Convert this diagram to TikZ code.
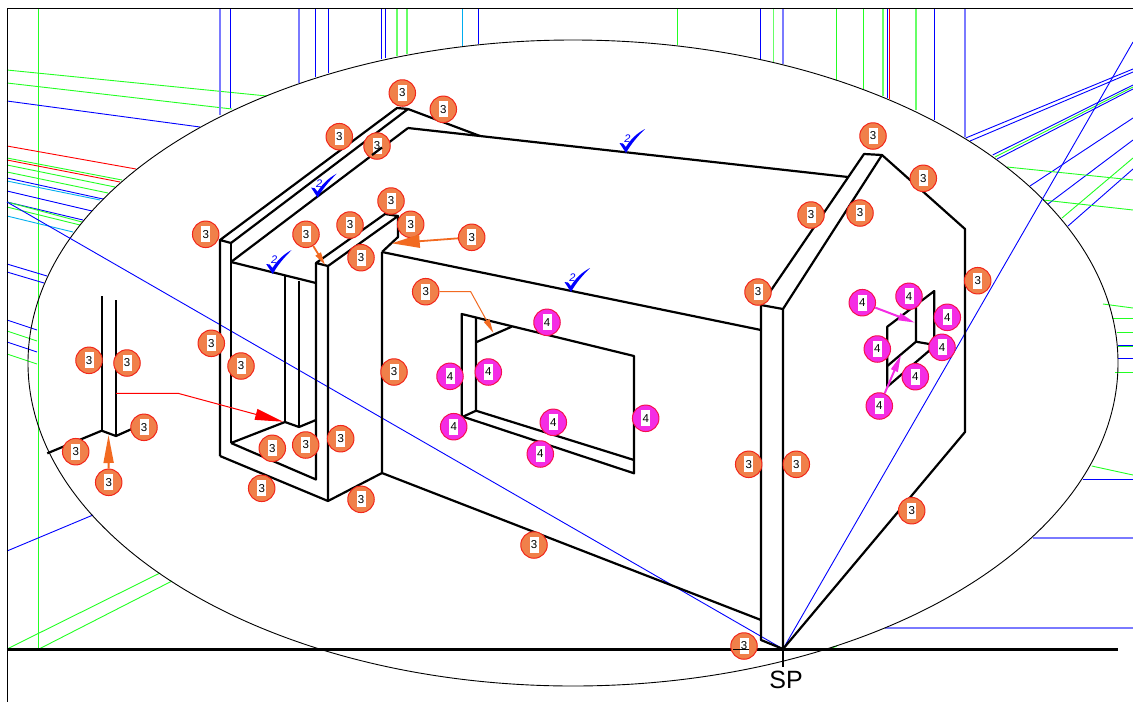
\documentclass[tikz,border=0pt]{standalone}
\usepackage{fontspec}
\setmainfont{Liberation Sans}
\usetikzlibrary{arrows.meta}
\definecolor{bordo}{HTML}{F2261A}
\definecolor{fillo}{HTML}{F0804A}
\definecolor{bordm}{HTML}{F5104E}
\definecolor{fillm}{HTML}{F42CE4}
\definecolor{tipo}{HTML}{F26A21}
\definecolor{paleb}{HTML}{7A7AFF}
\definecolor{paleg}{HTML}{66FF66}
\definecolor{pureg}{HTML}{22FF22}
\tikzset{
  wall/.style={line width=2.2pt, line join=round},
  thin line/.style={line width=0.9pt},
  gl/.style={thin line, pureg},
  bl/.style={thin line, blue},
  rl/.style={thin line, red},
  cl/.style={thin line, cyan},
  pb/.style={line width=1.5pt, paleb},
  pg/.style={line width=1.5pt, paleg},
  badge/.style={circle, minimum size=26.5pt, inner sep=0pt, line width=1pt,
    font=\fontsize{11.5}{12}\selectfont,
    path picture={\fill[white] ([xshift=-4.5pt,yshift=-8pt]path picture bounding box.center) rectangle ([xshift=4.5pt,yshift=8pt]path picture bounding box.center);}},
  badgeo/.style={badge, draw=bordo, fill=fillo},
  badgem/.style={badge, draw=bordm, fill=fillm},
  tick/.pic={
    \fill[blue] (-5.5,-9) -- (-2,-8.5) -- (0.8,-5) .. controls (5,-12) and (12,-19) .. (20,-23)
      .. controls (12,-15) and (6,-8) .. (1,1) -- cycle;
    \node[blue, font=\fontsize{11}{11}\selectfont\itshape] (lab) at (2.5,-13.5) {2};
  }
}
\begin{document}
\begin{tikzpicture}[x=1pt, y=-1pt]
\useasboundingbox (0,0) rectangle (1133,702);

% construction lines, left
\draw[gl, line width=1.2pt] (38.2,8) -- (38.2,649);
\draw[gl] (7,70) -- (267,96);
\draw[gl] (7,83) -- (232,109);
\draw[bl] (7,101) -- (200,127);
\draw[rl] (7,146) -- (136,169);
\draw[gl] (7,158) -- (122,180);
\draw[rl] (7,160) -- (120,182);
\draw[gl] (7,165) -- (115,187);
\draw[gl] (7,172) -- (108,193);
\draw[bl] (7,178) -- (103,199);
\draw[cl] (7,181) -- (100,200);
\draw[bl] (7,191) -- (92,211);
\draw[bl] (7,202) -- (83,220);
\draw[gl] (7,202) -- (82,222);
\draw[gl] (7,207) -- (80,225);
\draw[cl] (7,216) -- (73,232);
\draw[bl] (7,264) -- (47,276);
\draw[bl] (7,272) -- (44,283);
\draw[bl] (7,320) -- (37,330);
\draw[gl] (7,331) -- (37,341);
\draw[bl] (7,342) -- (37,352);
\draw[gl] (7,354) -- (37,364);
\draw[bl] (7,551) -- (93,515);
\draw[gl] (7,649) -- (160,573);
\draw[gl] (39,649) -- (172,581);

% construction lines, top
\draw[pb] (220,8) -- (220,115);
\draw[bl] (230.7,8) -- (230.7,108);
\draw[pb] (299,8) -- (299,83);
\draw[bl] (315.7,8) -- (315.7,77);
\draw[bl] (328,8) -- (328,73);
\draw[bl] (381.7,8) -- (381.7,59);
\draw[bl] (385.7,8) -- (385.7,58);
\draw[pg] (397,8) -- (397,56);
\draw[pg] (407,8) -- (407,54);
\draw[cl] (462,8) -- (462,46);
\draw[bl] (478,8) -- (478,44);
\draw[gl] (677.2,8) -- (677.2,45);
\draw[bl] (760,8) -- (760,59);
\draw[pg] (773.7,8) -- (773.7,62);
\draw[pb] (783,8) -- (783,64);
\draw[gl] (836,8) -- (836,80);
\draw[gl] (863,8) -- (863,89);
\draw[pg] (883,8) -- (883,96);
\draw[bl] (887,8) -- (887,98);
\draw[rl] (889,8) -- (889,99);
\draw[pg] (916,8) -- (916,110);
\draw[bl] (934,8) -- (934,120);
\draw[pb] (965,8) -- (965,137);

% construction lines, right
\draw[bl] (965.7,138) -- (1133,69);
\draw[bl] (970,141) -- (1133,72);
\draw[bl] (992.7,155) -- (1133,85);
\draw[gl] (995,157) -- (1133,87);
\draw[bl] (997,159) -- (1133,89);
\draw[bl] (1030,186) -- (1133,118);
\draw[bl] (1048,204) -- (1133,140);
\draw[gl] (1062,218) -- (1133,158);
\draw[bl] (1068,226) -- (1133,169);
\draw[gl] (1007,167) -- (1133,180);
\draw[gl] (1043,200) -- (1133,210);
\draw[gl] (1103,304) -- (1133,308);
\draw[gl] (1112,318) -- (1133,318);
\draw[gl] (1117,332) -- (1133,332);
\draw[bl] (1118,345) -- (1133,345);
\draw[gl] (1118,346) -- (1133,346);
\draw[bl] (1118,358) -- (1133,358);
\draw[gl] (1115,372) -- (1133,372);
\draw[gl] (1091.7,466) -- (1133,475);
\draw[bl] (1083,479) -- (1133,479);
\draw[pb] (1033,538) -- (1133,538);
\draw[pb] (885,628) -- (1133,628);
\draw[gl] (832,648) -- (837,646);

% frame, circle of vision, ground line
\draw[line width=1pt] (1133,8) -- (7,8) -- (7,702);
\draw[line width=0.9pt] (573,363) ellipse [x radius=545, y radius=323];
\draw[line width=2.05pt] (7,649.5) -- (1118,649.5);
\draw[line width=2.6pt] (765,649.5) -- (801,649.5);
\draw[line width=1.5pt] (783,630) -- (783,667);
\node (sp) at (786,679.5) {\fontsize{25}{25}\selectfont SP};

% rays to SP
\coordinate (SP) at (783,649);
\draw[bl] (7,202) -- (SP);
\draw[bl] (1133,42) -- (SP);

% small corner at the left
\draw[wall] (101.7,296) -- (101.7,430.7);
\draw[wall] (116,300) -- (116,436);
\draw[wall] (47.3,453.3) -- (101.7,430.7) -- (116,436) -- (134,428);

% porch
\draw[wall] (220,456) -- (220,240) -- (397,108) -- (408,109) -- (231,243) -- (220,240);
\draw[wall] (231,243) -- (231,443);
\draw[wall] (220,456) -- (328,501) -- (382,473);
\draw[wall] (231,443) -- (316,479.5) -- (316,263);
\draw[wall] (328,501) -- (328,266) -- (316,263) -- (385,214) -- (398,216) -- (328,266);
\draw[wall] (398,216) -- (398,237) -- (382,252);
\draw[wall] (231,262) -- (408,128);
\draw[wall] (231,262) -- (316,283);
\draw[wall] (231,443) -- (285,422) -- (299,427) -- (316,420);
\draw[wall, line width=1.8pt] (284.7,276) -- (284.7,422);
\draw[wall, line width=1.8pt] (299,281) -- (299,427);
\draw[wall] (408,109) -- (480,136);

% long wall
\draw[wall] (408,128) -- (848,177);
\draw[wall] (382,252) -- (761,330);
\draw[wall] (382,252) -- (382,473) -- (761,620);
\draw[wall] (761,305) -- (761,640) -- (783,649);
\draw[wall] (761,305) -- (783,309) -- (783,649);

% gable wall
\draw[wall] (761,305) -- (864,154) -- (882,155) -- (783,309);
\draw[wall] (882,155) -- (965,229) -- (965,432) -- (783,649);

% window in the long wall
\draw[wall] (463,416.7) -- (461.7,416) -- (461.7,314) -- (634,356) -- (634,473.3) -- (463,416.7);
\draw[wall] (476,317.7) -- (476,410.7) -- (634,460);
\draw[wall] (463,416.7) -- (476,410.7);
\draw[wall] (476,342.3) -- (511.7,326.7);

% window in the gable
\draw[wall] (887.3,386.7) -- (887.3,326.7) -- (934.3,291) -- (934.3,343);
\draw[wall] (916,306.7) -- (916,341.7) -- (935,345);
\draw[wall] (887.3,366) -- (916,341.7);
\draw[wall] (887.3,386.7) -- (930,350);

% checks
\pic[name=tka-] at (316.7,196.7) {tick};
\pic[name=tkb-] at (271.7,273) {tick};
\pic[name=tkc-] at (625,152) {tick};
\pic[name=tkd-] at (570,291) {tick};

% badges 3
\foreach \n/\x/\y in {a/402.3/93, b/443.3/109.3, c/339.3/136.7, d/377/146, e/205.7/234.3, f/306/234.3,
    g/350/225, h/391/201, i/410.7/224.3, j/361/257.7, k/471.7/237.3, l/425.7/291.7,
    m/873/136, n/923.3/178.3, o/811/215, p/860/213, q/977.7/280.7, r/758/292,
    s/211.3/343.3, t/241/366, u/394/372, v/89/360.3, w/127/363, x/144/427.3,
    y/75.7/451.7, z/108.7/482.3, aa/272.3/448.3, ab/305.7/445, ac/340.7/438.7,
    ad/261.7/488.3, ae/361/499.3, af/534/545, ag/748.7/464.3, ah/796.3/464.3,
    ai/911.7/510.7, aj/744/646}
  \node[badgeo] (th\n) at (\x,\y) {3};

% badges 4
\foreach \n/\x/\y in {a/547/322.3, b/450/376.3, c/488.3/372, d/453.7/426.7, e/553.3/422.3,
    f/645.7/418.3, g/540.3/454, h/862.3/302.7, i/909/296.3, j/947.3/317.3,
    k/942/347.3, l/877.3/349, m/915.3/376.7, n/879.3/406}
  \node[badgem] (fo\n) at (\x,\y) {4};

% lines that show through two badges
\draw[wall] (372,155) -- (382,147.5);
\draw[line width=1pt] (733,649.5) -- (749,649.5);

% arrows
\coordinate (tipf) at (325,265);
\coordinate (tipk) at (391.7,243.3);
\coordinate (tipz) at (108.5,435);
\coordinate (bendl) at (470.7,293);
\coordinate (tipl) at (493.3,332.7);
\coordinate (red0) at (116,393.3);
\coordinate (red1) at (178,393.3);
\coordinate (red2) at (283,421.7);
\coordinate (tiph) at (915,322.7);
\coordinate (tipn) at (901,355);
\draw[-{Triangle[length=13pt,width=6pt]}, tipo, line width=1.8pt] (thf) -- (tipf);
\draw[-{Triangle[length=28pt,width=13pt]}, tipo, line width=1.8pt] (thk) -- (tipk);
\draw[-{Triangle[length=28pt,width=10pt]}, tipo, line width=1.8pt] (thz) -- (tipz);
\draw[-{Triangle[length=14pt,width=6pt]}, tipo, line width=1pt] (thl) -- (thl -| bendl) -- (tipl);
\draw[-{Triangle[length=28pt,width=11pt]}, red, line width=1pt] (red0) -- (red1) -- (red2);
\draw[-{Triangle[length=17pt,width=7pt]}, fillm, line width=2pt] (foh) -- (tiph);
\draw[-{Triangle[length=17pt,width=7pt]}, fillm, line width=2pt] (fon) -- (tipn);
\end{tikzpicture}
\end{document}
